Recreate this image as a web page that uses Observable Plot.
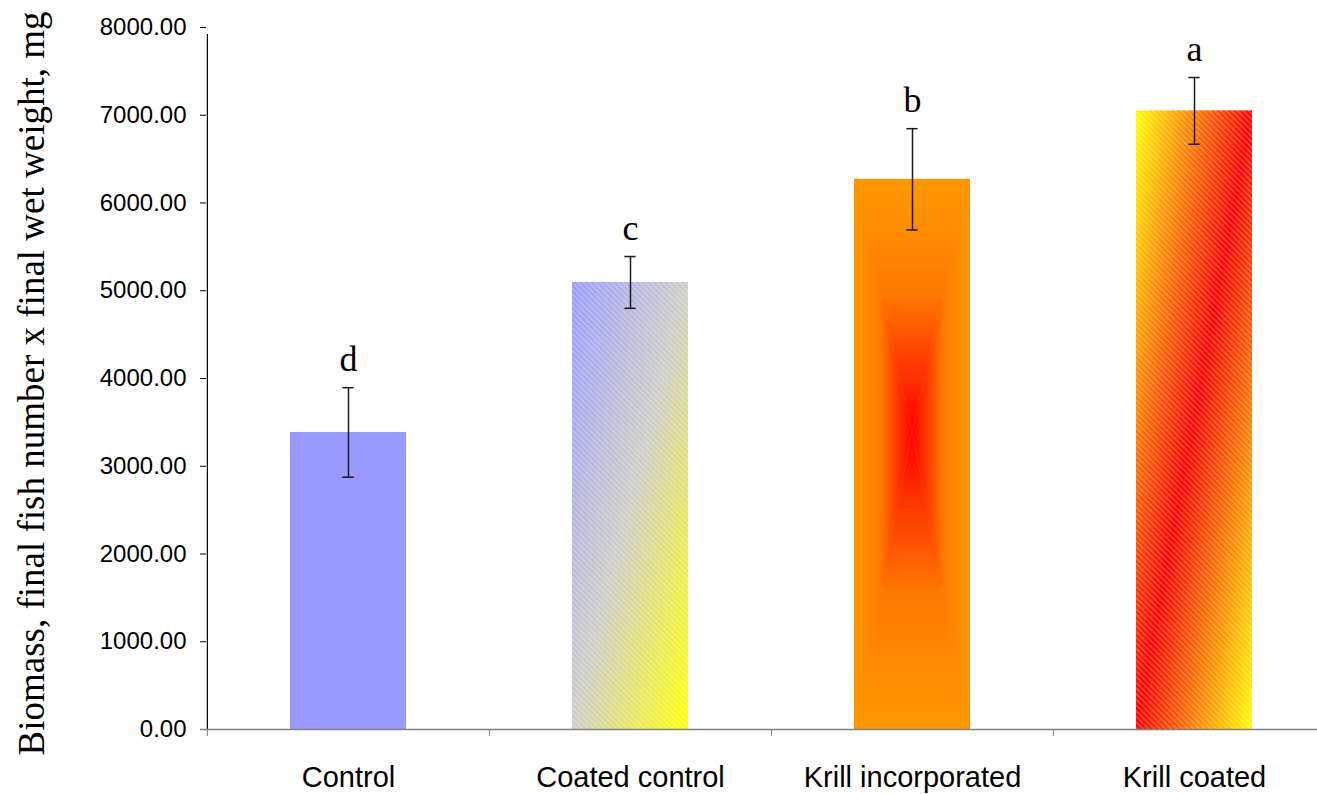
<!DOCTYPE html>
<html>
<head>
<meta charset="utf-8">
<script src="https://cdn.jsdelivr.net/npm/d3@7"></script>
<script src="https://cdn.jsdelivr.net/npm/@observablehq/plot@0.6"></script>
<style>
  html, body { margin: 0; padding: 0; background: #fff; }
  #chart svg { display: block; }
</style>
</head>
<body>
<div id="chart"></div>
<script>
// Biomass per diet treatment (mean ± error) with significance letters
const groups = ["Control", "Coated control", "Krill incorporated", "Krill coated"];
const biomass = [3385, 5095, 6270, 7050];
const errors = [510, 295, 577, 380];
const letters = ["d", "c", "b", "a"];
const yTicks = [0, 1000, 2000, 3000, 4000, 5000, 6000, 7000, 8000];
const yLabel = "Biomass, final fish number x final wet weight, mg";

const rows = groups.map((g, i) => ({group: g, value: biomass[i], err: errors[i], letter: letters[i]}));

// layout
const W = 1317, H = 794;
const xRange = [206, 1335];
const step = (xRange[1] - xRange[0]) / groups.length;
const padInner = 0.59;
const bandW = step * (1 - padInner);
const capW = 11;
const serif = "'Liberation Serif', 'Times New Roman', serif";
const sans = "'Liberation Sans', Arial, sans-serif";

// fills per treatment
const barFill = {
  "Control": "#9999FF",
  "Coated control": "url(#gCoated)",
  "Krill incorporated": "url(#gKrillInc)",
  "Krill coated": "url(#gKrillCoated)"
};
const hatched = new Set(["Coated control", "Krill coated"]);

function paintDefs() {
  const defs = d3.create("svg:defs");
  const lin = (id, [x1, y1, x2, y2], stops) => {
    const g = defs.append("linearGradient").attr("id", id)
      .attr("x1", x1).attr("y1", y1).attr("x2", x2).attr("y2", y2);
    for (const [o, c] of stops) g.append("stop").attr("offset", o).attr("stop-color", c);
  };
  lin("gCoated", [0, 0, 1, 1], [[0, "#9999FF"], [0.5, "#CDCDC6"], [1, "#FFFF00"]]);
  lin("gKrillCoated", [0, 0, 1, 1], [[0, "#FFFF00"], [0.5, "#FF0000"], [1, "#FFFF00"]]);

  // rectangular "from centre" fill: four triangles meeting at the centre
  const ramp = [[0, "#FF9900"], [0.45, "#FF7A00"], [1, "#FF0000"]];
  lin("kiTop", [0, 0, 0, 1], ramp);
  lin("kiBottom", [0, 1, 0, 0], ramp);
  lin("kiLeft", [0, 0, 1, 0], ramp);
  lin("kiRight", [1, 0, 0, 0], ramp);
  const p = defs.append("pattern").attr("id", "gKrillInc")
    .attr("patternUnits", "objectBoundingBox")
    .attr("patternContentUnits", "objectBoundingBox")
    .attr("width", 1).attr("height", 1);
  const cx = 0.5, cy = 0.46;
  p.append("rect").attr("width", 1).attr("height", 1).attr("fill", "#FF8A00");
  p.append("polygon").attr("points", `0,0 1,0 ${cx},${cy}`).attr("fill", "url(#kiTop)");
  p.append("polygon").attr("points", `0,1 1,1 ${cx},${cy}`).attr("fill", "url(#kiBottom)");
  p.append("polygon").attr("points", `0,0 0,1 ${cx},${cy}`).attr("fill", "url(#kiLeft)");
  p.append("polygon").attr("points", `1,0 1,1 ${cx},${cy}`).attr("fill", "url(#kiRight)");

  // fine diagonal hatching laid over the gradient bars
  const h = defs.append("pattern").attr("id", "hatch")
    .attr("patternUnits", "userSpaceOnUse")
    .attr("width", 4).attr("height", 4)
    .attr("patternTransform", "rotate(-45)");
  h.append("rect").attr("width", 1.4).attr("height", 4)
    .attr("fill", "#fff").attr("fill-opacity", 0.3);
  return defs.node();
}

const chart = Plot.plot({
  width: W,
  height: H,
  marginLeft: 206,
  marginRight: 0,
  marginTop: 27,
  marginBottom: 65,
  style: {background: "#fff", color: "#000", fontFamily: sans},
  x: {domain: groups, range: xRange, paddingInner: padInner, paddingOuter: padInner / 2, axis: null},
  y: {domain: [0, 8000], axis: null},
  color: {type: "identity"},
  marks: [
    paintDefs,
    Plot.barY(rows, {x: "group", y: "value", fill: d => barFill[d.group]}),
    Plot.barY(rows.filter(d => hatched.has(d.group)), {x: "group", y: "value", fill: "url(#hatch)"}),
    // error bars
    Plot.ruleX(rows, {x: "group", y1: d => d.value - d.err, y2: d => d.value + d.err, stroke: "#1a1a1a", strokeWidth: 1.5}),
    Plot.tickY(rows, {x: "group", y: d => d.value + d.err, stroke: "#1a1a1a", strokeWidth: 1.5,
      insetLeft: (bandW - capW) / 2, insetRight: (bandW - capW) / 2}),
    Plot.tickY(rows, {x: "group", y: d => d.value - d.err, stroke: "#1a1a1a", strokeWidth: 1.5,
      insetLeft: (bandW - capW) / 2, insetRight: (bandW - capW) / 2}),
    // significance letters
    Plot.text(rows, {x: "group", y: d => d.value + d.err, text: "letter", lineAnchor: "bottom", dy: -17,
      fontSize: 36, fontFamily: serif, fill: "#000"}),
    // y axis
    Plot.axisY({ticks: yTicks, tickFormat: d3.format(".2f"), tickSize: 6, tickPadding: 14,
      fontSize: 24, fontFamily: sans, label: null}),
    Plot.ruleX([groups[0]], {dx: -step / 2, y1: 0, y2: 8000, insetBottom: -7, stroke: "#000", strokeWidth: 1.2}),
    // x axis: boundary ticks between categories, then category names
    Plot.axisX({tickSize: 7, tickFormat: () => "", dx: -step / 2, stroke: "#808080", label: null}),
    Plot.axisX({tickSize: 0, tickPadding: 37, fontSize: 29, fontFamily: sans, label: null}),
    Plot.ruleY([0], {stroke: "#808080", strokeWidth: 1.5, insetLeft: -6}),
    // y axis title
    Plot.text([yLabel], {frameAnchor: "left", textAnchor: "middle", rotate: -90, dx: -174, dy: 5,
      fontSize: 37, fontFamily: serif, fill: "#000"})
  ]
});

document.getElementById("chart").appendChild(chart);
</script>
</body>
</html>
